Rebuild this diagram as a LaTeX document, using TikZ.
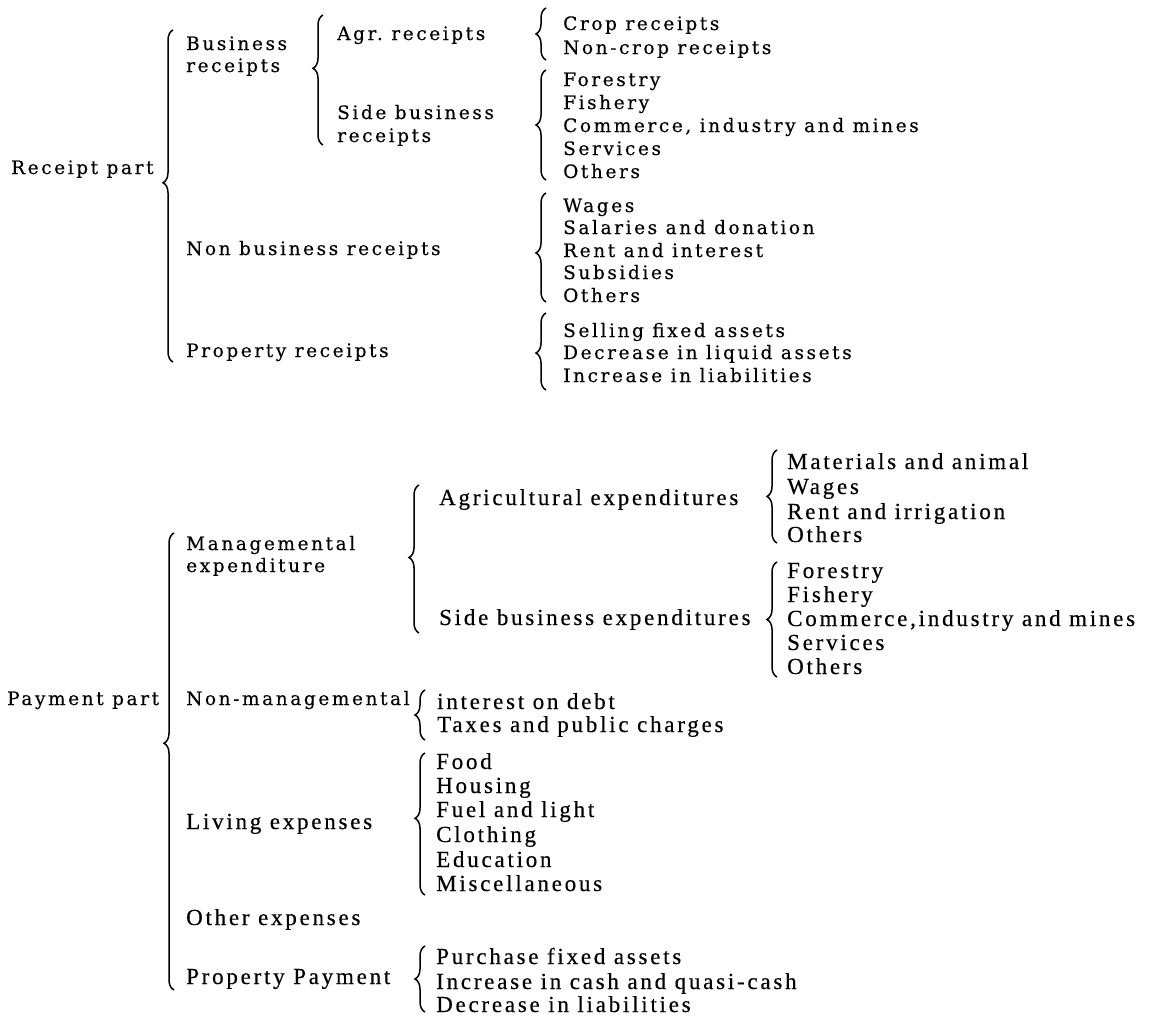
\documentclass[tikz,border=0pt]{standalone}
\usepackage{fontspec}
\setmainfont{DejaVu Serif}
\newfontfamily\widefont[LetterSpace=14, FakeBold=0.3]{DejaVu Serif}
\newfontfamily\tightfont[LetterSpace=12, FakeBold=0.4]{Liberation Serif}
\usetikzlibrary{decorations.pathreplacing}

\tikzset{
	up/.style={anchor=base west, inner sep=0pt, font=\widefont\fontsize{18.5}{23}\selectfont},
	lo/.style={anchor=base west, inner sep=0pt, font=\tightfont\fontsize{23}{24}\selectfont},
	brc/.style={decorate, decoration={brace, mirror, amplitude=10pt, aspect=#1}, line width=1.5pt},
	brc/.default=0.5
}

\begin{document}
\begin{tikzpicture}[x=1pt, y=-1pt]

	\fill[white] (0,0) rectangle (1149,1017);

	% receipt part
	\node[up] (rec)    at (11, 174)  {Receipt part};
	\node[up] (bus)    at (186, 50)  {Business};
	\node[up] (bus2)   at (186, 72)  {receipts};
	\node[up] (agr)    at (337, 40)  {Agr.\ receipts};
	\node[up] (side)   at (337, 119) {Side business};
	\node[up] (side2)  at (337, 142) {receipts};
	\node[up] (nonbus) at (186, 255) {Non business receipts};
	\node[up] (prop)   at (186, 357) {Property receipts};

	\node[up] (crop)    at (563, 30)  {Crop receipts};
	\node[up] (noncrop) at (563, 54)  {Non-crop receipts};
	\node[up] (rfor)    at (563, 86)  {Forestry};
	\node[up] (rfish)   at (563, 109) {Fishery};
	\node[up] (rcom)    at (563, 132) {Commerce, industry and mines};
	\node[up] (rserv)   at (563, 155) {Services};
	\node[up] (roth)    at (563, 178) {Others};
	\node[up] (wages)   at (563, 212) {Wages};
	\node[up] (sal)     at (563, 234) {Salaries and donation};
	\node[up] (rent)    at (563, 257) {Rent and interest};
	\node[up] (subs)    at (563, 279) {Subsidies};
	\node[up] (roth2)   at (563, 302) {Others};
	\node[up] (sell)    at (563, 337) {Selling fixed assets};
	\node[up] (decliq)  at (563, 359) {Decrease in liquid assets};
	\node[up] (incliab) at (563, 382) {Increase in liabilities};

	\draw[brc=0.46] (173, 30)  -- (173, 362);
	\draw[brc=0.41] (323, 15)  -- (323, 145);
	\draw[brc]      (546, 8)   -- (546, 60);
	\draw[brc]      (546, 70)  -- (546, 180);
	\draw[brc=0.55] (546, 193) -- (546, 302);
	\draw[brc=0.52] (546, 313) -- (546, 390);

	% payment part
	\node[up] (pay)     at (7, 705)   {Payment part};
	\node[up] (mgmt)    at (186, 550) {Managemental};
	\node[up] (mgmt2)   at (186, 572) {expenditure};
	\node[up] (nonmgmt) at (186, 705) {Non-managemental};
	\node[lo] (living)  at (186, 829) {Living expenses};
	\node[lo] (other)   at (186, 925) {Other expenses};
	\node[lo] (ppay)    at (186, 984) {Property Payment};

	\node[lo] (agrexp)  at (439, 505) {Agricultural expenditures};
	\node[lo] (sideexp) at (439, 625) {Side business expenditures};

	\node[lo] (mat)     at (787, 469) {Materials and animal};
	\node[lo] (pwages)  at (787, 494) {Wages};
	\node[lo] (irr)     at (787, 519) {Rent and irrigation};
	\node[lo] (poth)    at (787, 542) {Others};
	\node[lo] (pfor)    at (787, 578) {Forestry};
	\node[lo] (pfish)   at (787, 602) {Fishery};
	\node[lo] (pcom)    at (787, 626) {Commerce,industry and mines};
	\node[lo] (pserv)   at (787, 650) {Services};
	\node[lo] (poth2)   at (787, 674) {Others};

	\node[lo] (debt)    at (437, 709) {interest on debt};
	\node[lo] (taxes)   at (437, 732) {Taxes and public charges};

	\node[lo] (food)    at (436, 769) {Food};
	\node[lo] (house)   at (436, 793) {Housing};
	\node[lo] (fuel)    at (436, 817) {Fuel and light};
	\node[lo] (cloth)   at (436, 842) {Clothing};
	\node[lo] (edu)     at (436, 867) {Education};
	\node[lo] (misc)    at (436, 891) {Miscellaneous};

	\node[lo] (purch)   at (436, 964)  {Purchase fixed assets};
	\node[lo] (inccash) at (436, 989)  {Increase in cash and quasi-cash};
	\node[lo] (decliab) at (436, 1012) {Decrease in liabilities};

	\draw[brc=0.46] (174, 533) -- (174, 990);
	\draw[brc=0.49] (419, 485) -- (419, 633);
	\draw[brc]      (777, 450) -- (777, 543);
	\draw[brc]      (777, 562) -- (777, 677);
	\draw[brc]      (425, 690) -- (425, 740);
	\draw[brc=0.46] (425, 753) -- (425, 895);
	\draw[brc]      (425, 946) -- (425, 1012);

\end{tikzpicture}
\end{document}
